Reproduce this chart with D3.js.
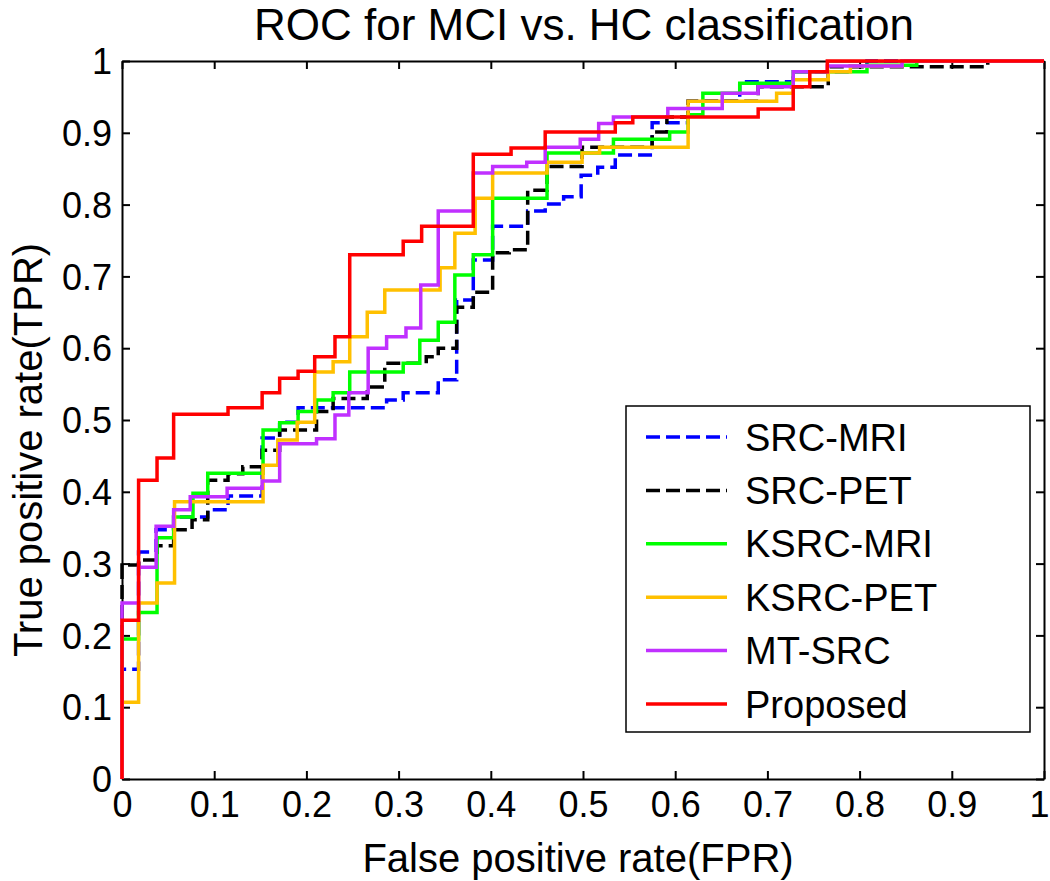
<!DOCTYPE html>
<html>
<head>
<meta charset="utf-8">
<script src="https://cdnjs.cloudflare.com/ajax/libs/d3/7.8.5/d3.min.js"></script>
<style>
  html, body { margin: 0; padding: 0; background: #fff; }
  svg { display: block; }
  text { font-family: "Liberation Sans", Arial, sans-serif; fill: #000; }
</style>
</head>
<body>
<svg id="chart" width="1050" height="881"></svg>
<script>
// ---------- data ----------
const chartTitle = "ROC for MCI vs. HC classification";
const xLabel = "False positive rate(FPR)";
const yLabel = "True positive rate(TPR)";
const xTicks = [0, 0.1, 0.2, 0.3, 0.4, 0.5, 0.6, 0.7, 0.8, 0.9, 1];
const yTicks = [0, 0.1, 0.2, 0.3, 0.4, 0.5, 0.6, 0.7, 0.8, 0.9, 1];
const xTickLabels = ["0", "0.1", "0.2", "0.3", "0.4", "0.5", "0.6", "0.7", "0.8", "0.9", "1"];
const yTickLabels = ["0", "0.1", "0.2", "0.3", "0.4", "0.5", "0.6", "0.7", "0.8", "0.9", "1"];
const seriesNames = ["SRC-MRI", "SRC-PET", "KSRC-MRI", "KSRC-PET", "MT-SRC", "Proposed"];

// step points: at FPR x the curve rises to TPR y
const srcMriFpr = [0, 0, 0.018, 0.037, 0.056, 0.093, 0.115, 0.152, 0.171, 0.191, 0.287, 0.305, 0.343, 0.363, 0.381, 0.402, 0.440, 0.459, 0.479, 0.498, 0.516, 0.535, 0.575, 0.614, 0.670, 0.728, 0.790, 0.808, 1];
const srcMriTpr = [0, 0.153, 0.316, 0.347, 0.365, 0.375, 0.394, 0.475, 0.497, 0.517, 0.528, 0.538, 0.556, 0.667, 0.723, 0.770, 0.791, 0.801, 0.811, 0.841, 0.852, 0.869, 0.914, 0.944, 0.971, 0.985, 0.993, 1, 1];

const srcPetFpr = [0, 0, 0.018, 0.038, 0.056, 0.076, 0.093, 0.115, 0.131, 0.152, 0.171, 0.211, 0.229, 0.266, 0.285, 0.330, 0.343, 0.363, 0.381, 0.402, 0.420, 0.440, 0.461, 0.499, 0.575, 0.591, 0.614, 0.690, 0.766, 0.939, 1];
const srcPetTpr = [0, 0.298, 0.305, 0.325, 0.347, 0.361, 0.416, 0.425, 0.435, 0.458, 0.486, 0.512, 0.530, 0.546, 0.579, 0.588, 0.600, 0.657, 0.678, 0.733, 0.737, 0.820, 0.853, 0.880, 0.901, 0.922, 0.944, 0.964, 0.992, 1, 1];

const ksrcMriFpr = [0, 0, 0.018, 0.038, 0.056, 0.077, 0.093, 0.153, 0.171, 0.191, 0.211, 0.229, 0.247, 0.305, 0.323, 0.343, 0.361, 0.381, 0.402, 0.461, 0.533, 0.594, 0.614, 0.630, 0.670, 0.728, 0.808, 0.862, 1];
const ksrcMriTpr = [0, 0.195, 0.232, 0.336, 0.365, 0.398, 0.426, 0.486, 0.496, 0.512, 0.528, 0.538, 0.567, 0.579, 0.611, 0.636, 0.702, 0.730, 0.809, 0.872, 0.891, 0.901, 0.925, 0.955, 0.969, 0.985, 0.994, 1, 1];

const ksrcPetFpr = [0, 0, 0.018, 0.038, 0.057, 0.153, 0.169, 0.190, 0.209, 0.229, 0.247, 0.266, 0.285, 0.345, 0.361, 0.383, 0.402, 0.461, 0.499, 0.518, 0.614, 0.710, 0.728, 0.766, 0.790, 0.846, 1];
const ksrcPetTpr = [0, 0.107, 0.245, 0.273, 0.386, 0.437, 0.472, 0.497, 0.567, 0.581, 0.616, 0.650, 0.681, 0.712, 0.760, 0.809, 0.844, 0.859, 0.872, 0.880, 0.944, 0.955, 0.974, 0.985, 0.993, 1, 1];

const mtSrcFpr = [0, 0, 0.018, 0.037, 0.056, 0.074, 0.114, 0.152, 0.171, 0.211, 0.231, 0.246, 0.267, 0.287, 0.308, 0.324, 0.343, 0.381, 0.402, 0.439, 0.459, 0.497, 0.517, 0.533, 0.592, 0.651, 0.690, 0.728, 0.765, 0.846, 1];
const mtSrcTpr = [0, 0.245, 0.295, 0.352, 0.375, 0.393, 0.405, 0.415, 0.467, 0.474, 0.507, 0.538, 0.600, 0.616, 0.628, 0.688, 0.791, 0.844, 0.853, 0.859, 0.880, 0.891, 0.913, 0.922, 0.934, 0.955, 0.964, 0.985, 0.993, 1, 1];

const proposedFpr = [0, 0, 0.018, 0.038, 0.056, 0.115, 0.152, 0.171, 0.191, 0.209, 0.231, 0.247, 0.305, 0.325, 0.381, 0.422, 0.459, 0.535, 0.554, 0.690, 0.728, 0.746, 0.765, 1];
const proposedTpr = [0, 0.221, 0.416, 0.447, 0.508, 0.517, 0.538, 0.558, 0.568, 0.588, 0.616, 0.730, 0.749, 0.770, 0.870, 0.879, 0.901, 0.914, 0.922, 0.933, 0.964, 0.985, 1, 1];

// ---------- styles ----------
const seriesFpr = [srcMriFpr, srcPetFpr, ksrcMriFpr, ksrcPetFpr, mtSrcFpr, proposedFpr];
const seriesTpr = [srcMriTpr, srcPetTpr, ksrcMriTpr, ksrcPetTpr, mtSrcTpr, proposedTpr];
const seriesColors = ["#0000FF", "#000000", "#00FF00", "#FFC000", "#C030FF", "#FF0000"];
const seriesDash = ["14,6", "14,6", null, null, null, null];

const svg = d3.select("#chart");
const L = 122, R = 1044, T = 61, B = 779;
const x = d3.scaleLinear().domain([0, 1]).range([L, R]);
const y = d3.scaleLinear().domain([0, 1]).range([B, T]);

// axes box with inward ticks on all sides
const tickLen = 8;
const axisG = svg.append("g");
const xb = axisG.append("g").attr("transform", `translate(0,${B})`)
  .call(d3.axisBottom(x).tickValues(xTicks).tickSizeInner(-tickLen).tickSizeOuter(0).tickFormat((d, i) => xTickLabels[i]));
const xt = axisG.append("g").attr("transform", `translate(0,${T})`)
  .call(d3.axisTop(x).tickValues(xTicks).tickSizeInner(-tickLen).tickSizeOuter(0).tickFormat(""));
const yl = axisG.append("g").attr("transform", `translate(${L},0)`)
  .call(d3.axisLeft(y).tickValues(yTicks).tickSizeInner(-tickLen).tickSizeOuter(0).tickFormat((d, i) => yTickLabels[i]));
const yr = axisG.append("g").attr("transform", `translate(${R},0)`)
  .call(d3.axisRight(y).tickValues(yTicks).tickSizeInner(-tickLen).tickSizeOuter(0).tickFormat(""));
axisG.selectAll(".domain").attr("stroke", "#000").attr("stroke-width", 2);
axisG.selectAll(".tick line").attr("stroke", "#000").attr("stroke-width", 2);
xb.selectAll(".tick text").attr("font-size", 36).attr("y", 12).attr("dy", "0.71em")
  .attr("font-family", "Liberation Sans, Arial, sans-serif");
// keep the last x label inside the canvas
xb.selectAll(".tick text").filter((d, i) => i === xTicks.length - 1)
  .attr("text-anchor", "end").attr("x", 5);
yl.selectAll(".tick text").attr("font-size", 36).attr("x", -10).attr("dy", "0.35em")
  .attr("font-family", "Liberation Sans, Arial, sans-serif");

// curves
const line = d3.line().x(d => x(d[0])).y(d => y(d[1])).curve(d3.curveStepAfter);
const linesG = svg.append("g");
seriesNames.forEach((name, i) => {
  const pts = seriesFpr[i].map((f, j) => [f, seriesTpr[i][j]]);
  linesG.append("path")
    .attr("d", line(pts))
    .attr("fill", "none")
    .attr("stroke", seriesColors[i])
    .attr("stroke-width", 3.5)
    .attr("stroke-linejoin", "miter")
    .attr("stroke-dasharray", seriesDash[i]);
});

// title and axis labels
svg.append("text").attr("x", (L + R) / 2 + 1).attr("y", 40).attr("text-anchor", "middle")
  .attr("font-size", 44).text(chartTitle);
svg.append("text").attr("x", (L + R) / 2 - 5).attr("y", 872).attr("text-anchor", "middle")
  .attr("font-size", 40).text(xLabel);
svg.append("text").attr("transform", `translate(42,${(T + B) / 2 + 30}) rotate(-90)`)
  .attr("text-anchor", "middle").attr("font-size", 40).text(yLabel);

// legend
const lg = svg.append("g");
lg.append("rect").attr("x", 626).attr("y", 406).attr("width", 404).attr("height", 326)
  .attr("fill", "#fff").attr("stroke", "#000").attr("stroke-width", 1.5);
const rowY = d3.scaleLinear().domain([0, seriesNames.length - 1]).range([437, 704]);
seriesNames.forEach((name, i) => {
  const yy = rowY(i);
  lg.append("line").attr("x1", 646).attr("x2", 727).attr("y1", yy).attr("y2", yy)
    .attr("stroke", seriesColors[i]).attr("stroke-width", 3.5)
    .attr("stroke-dasharray", seriesDash[i]);
  lg.append("text").attr("x", 745).attr("y", yy).attr("dy", "0.36em")
    .attr("font-size", 38).text(name);
});
</script>
</body>
</html>
